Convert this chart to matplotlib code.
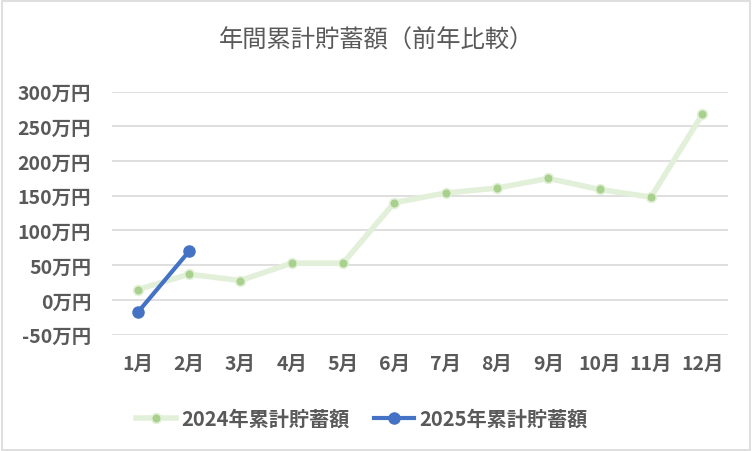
import matplotlib
matplotlib.use("Agg")
import matplotlib.pyplot as plt
from matplotlib.patches import Rectangle

plt.rcParams['font.family'] = ['Noto Sans CJK JP', 'DejaVu Sans']

months = ["1月", "2月", "3月", "4月", "5月", "6月", "7月", "8月", "9月", "10月", "11月", "12月"]
y2024 = [15, 37, 28, 53, 53, 140, 154, 161, 175, 159, 148, 267]
y2025 = [-18, 70]
yticks = [-50, 0, 50, 100, 150, 200, 250, 300]
title = "年間累計貯蓄額（前年比較）"
label2024 = "2024年累計貯蓄額"
label2025 = "2025年累計貯蓄額"

txt = "#595959"
fig = plt.figure(figsize=(7.52, 4.52), dpi=100)
ax = fig.add_axes([0.149, 0.2573, 0.819, 0.538])

x = list(range(len(months)))
ax.plot(x, y2024, color="#E2F0D9", lw=4, marker="o", ms=7,
        markerfacecolor="#A9D18E", markeredgecolor="#E2F0D9", markeredgewidth=1.2,
        label=label2024, zorder=3)
ax.plot(x[:len(y2025)], y2025, color="#4472C4", lw=3, marker="o", ms=8,
        markerfacecolor="#4472C4", markeredgecolor="#4472C4",
        label=label2025, zorder=4)

ax.set_xlim(-0.5, len(months) - 0.5)
ax.set_ylim(-50, 300)
ax.set_yticks(yticks)
ax.set_yticklabels([f"{v}万円" for v in yticks])
ax.set_xticks(x)
ax.set_xticklabels(months)
ax.grid(axis="y", color="#D9D9D9", lw=1.2)
ax.set_axisbelow(True)
for s in ax.spines.values():
    s.set_visible(False)
ax.tick_params(length=0, colors=txt, labelsize=14)
ax.tick_params(axis="y", pad=15)
ax.tick_params(axis="x", pad=14)
for lab in ax.get_xticklabels() + ax.get_yticklabels():
    lab.set_fontweight("bold")
    lab.set_color(txt)

fig.text(0.5, 0.91, title, ha="center", va="center", fontsize=17.5, color=txt)

leg = fig.legend(loc="center", bbox_to_anchor=(0.481, 0.072), ncol=2, frameon=False,
                 fontsize=14.5, handlelength=2.0, columnspacing=1.2, handletextpad=0.25)
for t in leg.get_texts():
    t.set_color(txt)
    t.set_fontweight("bold")

fig.patches.append(Rectangle((0.002, 0.003), 0.995, 0.993, transform=fig.transFigure,
                             fill=False, edgecolor="#D9D9D9", lw=1.2))
fig.savefig("out.png", dpi=100)
